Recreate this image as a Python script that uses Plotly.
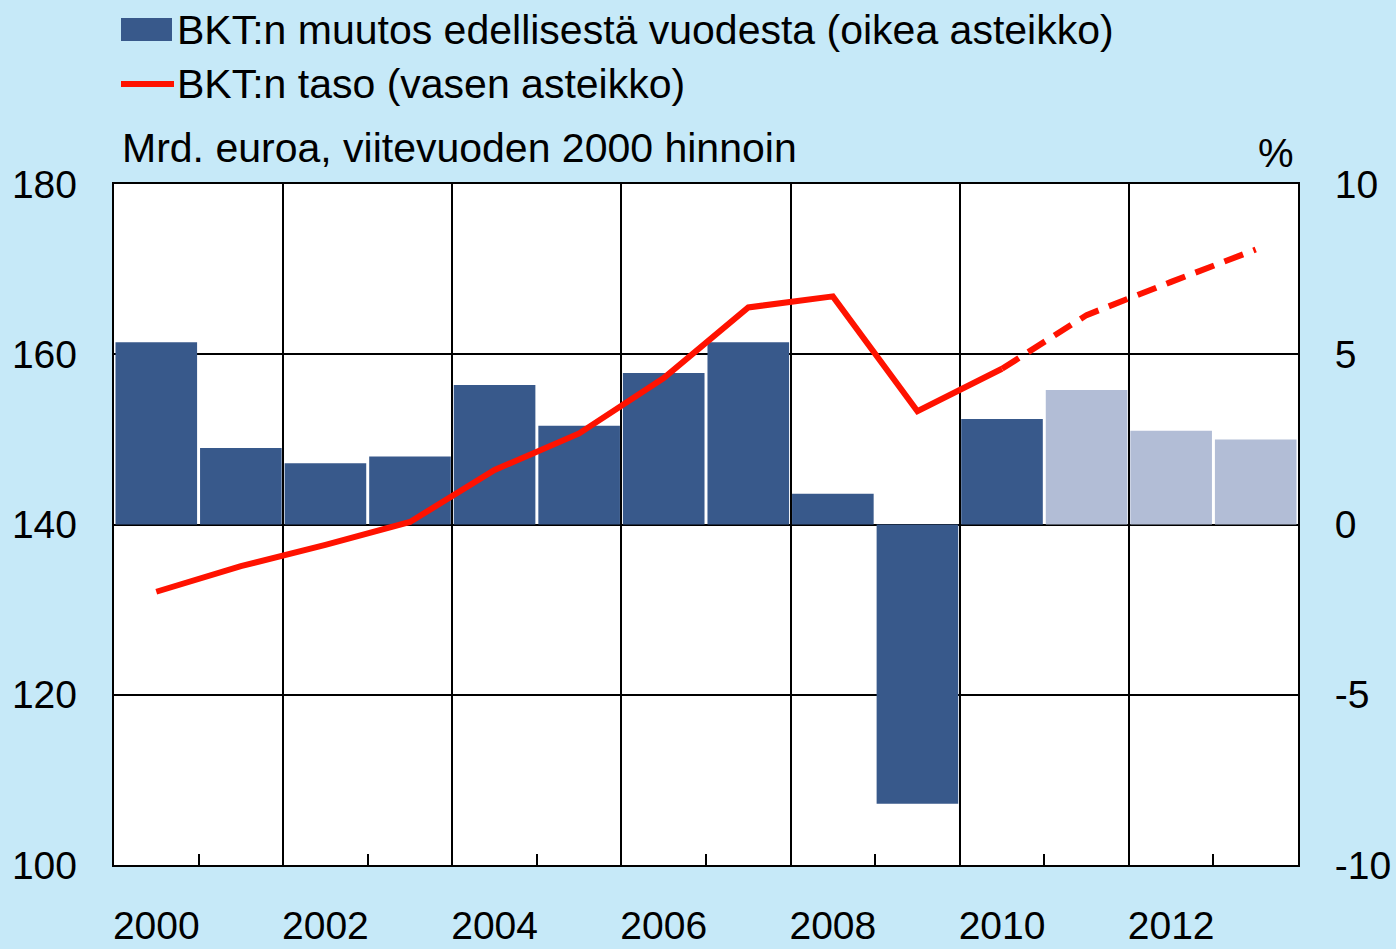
import plotly.graph_objects as go

years = list(range(2000, 2014))
gdp_change = [5.35, 2.25, 1.8, 2.0, 4.1, 2.9, 4.45, 5.35, 0.9, -8.2, 3.1, 3.95, 2.75, 2.5]
gdp_level = [132.1, 135.1, 137.6, 140.3, 146.4, 150.7, 157.2, 165.5, 166.8, 153.3, 158.3, 164.6, 168.5, 172.3]
forecast_from = 2011  # years >= this are forecasts
year_labels = ["2000", "2002", "2004", "2006", "2008", "2010", "2012"]
label_years = [2000, 2002, 2004, 2006, 2008, 2010, 2012]
right_ticks = [-10, -5, 0, 5, 10]
right_labels = ["-10", "-5", "0", "5", "10"]

DARK = "#38598b"
LIGHT = "#b2bdd6"
RED = "#ff1200"
FONT = "Arial, Liberation Sans, sans-serif"

bar_colors = [LIGHT if y >= forecast_from else DARK for y in years]
split = years.index(forecast_from - 1)

fig = go.Figure()
fig.add_trace(go.Bar(x=years, y=gdp_change, marker=dict(color=bar_colors, line=dict(width=0)),
                     xaxis="x", yaxis="y", showlegend=False))
fig.add_trace(go.Scatter(x=years[:split + 1], y=gdp_level[:split + 1], mode="lines",
                         line=dict(color=RED, width=6), xaxis="x2", yaxis="y2", showlegend=False))
fig.add_trace(go.Scatter(x=years[split:], y=gdp_level[split:], mode="lines",
                         line=dict(color=RED, width=6, dash="20px,11px"), xaxis="x2", yaxis="y2",
                         showlegend=False))

xr = [1999.5, 2013.5]
fig.update_layout(
    width=1396, height=949,
    autosize=False,
    margin=dict(l=114, r=98, t=184, b=84, autoexpand=False),
    paper_bgcolor="#c6e9f8",
    plot_bgcolor="white",
    bargap=0.035,
    font=dict(family=FONT, size=39, color="black"),
    xaxis=dict(range=xr, tickmode="array", automargin=False,
               tickvals=[y + 0.5 for y in years[1:-1:2]],
               showticklabels=False, ticks="inside", ticklen=11, tickwidth=1.5, tickcolor="black",
               showgrid=True, gridcolor="black", gridwidth=1.5,
               minor=dict(tickmode="array", tickvals=[y + 0.5 for y in years[0:-1:2]],
                          ticks="inside", ticklen=11, tickwidth=1.5, tickcolor="black", showgrid=False),
               showline=True, linecolor="black", linewidth=2, mirror=True, zeroline=False),
    xaxis2=dict(range=xr, overlaying="x", side="bottom", anchor="y2", tickmode="array",
                automargin=False,
                tickvals=label_years, ticktext=year_labels, showgrid=False, showline=False,
                ticks="", zeroline=False, ticklabelstandoff=34),
    yaxis=dict(range=[-10, 10], side="right", tickmode="array", tickvals=right_ticks,
               ticktext=right_labels, showgrid=True, automargin=False,
               gridcolor="black", gridwidth=1.5, zeroline=False,
               showline=True, linecolor="black", linewidth=2, mirror=True,
               ticks="", ticklabelstandoff=27),
    yaxis2=dict(range=[100, 180], side="left", overlaying="y", anchor="x2", dtick=20, tick0=100,
                automargin=False,
                showgrid=False, zeroline=False, showline=False, ticks="", ticklabelstandoff=36),
)

# custom legend
def px_x(px):
    return (px - 114) / 1184

def px_y(py):
    return (865 - py) / 681

fig.add_shape(type="rect", xref="paper", yref="paper", x0=px_x(121), x1=px_x(172),
              y0=px_y(41), y1=px_y(18), fillcolor=DARK, line=dict(width=0))
fig.add_shape(type="line", xref="paper", yref="paper", x0=px_x(121), x1=px_x(174),
              y0=px_y(84), y1=px_y(84), line=dict(color=RED, width=6))
fig.add_annotation(xref="paper", yref="paper", x=px_x(175), y=px_y(30), xanchor="left",
                   yanchor="middle", showarrow=False,
                   text="BKT:n muutos edellisestä vuodesta (oikea asteikko)", font=dict(size=41))
fig.add_annotation(xref="paper", yref="paper", x=px_x(175), y=px_y(84), xanchor="left",
                   yanchor="middle", showarrow=False,
                   text="BKT:n taso (vasen asteikko)", font=dict(size=41))
fig.add_annotation(xref="paper", yref="paper", x=px_x(120), y=px_y(148), xanchor="left",
                   yanchor="middle", showarrow=False,
                   text="Mrd. euroa, viitevuoden 2000 hinnoin", font=dict(size=41))
fig.add_annotation(xref="paper", yref="paper", x=px_x(1296), y=px_y(153), xanchor="right",
                   yanchor="middle", showarrow=False, text="%", font=dict(size=40))

fig.write_html("out.html", config={"displayModeBar": False},
               post_script="document.body.style.margin='0';document.body.style.overflow='hidden';")
